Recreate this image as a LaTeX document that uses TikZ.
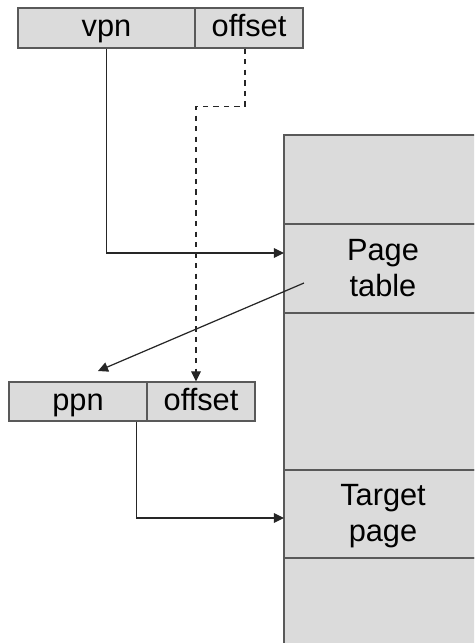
\documentclass[tikz,border=0pt]{standalone}
\usepackage{fontspec}
\setmainfont{Liberation Sans}
\usetikzlibrary{arrows.meta}

\newcommand{\px}{0.2mm}

\begin{document}
\begin{tikzpicture}[%
        x = 0.02cm,
        y = -0.02cm,
        > = {Triangle[length=5.7pt, width=5.5pt]},
        line width = 0.7pt,
        cell/.style = {draw = black!65, fill = black!14, inner sep = 0pt,
            font = \fontsize{17.5}{20.4}\selectfont, align = center,
            text height = 13.6pt, text depth = 3.7pt},
        memcell/.style = {cell, minimum width = 198*\px,
            text height = 33pt, text depth = 1.7pt},
        link/.style = {draw = black!85, ->}
    ]

        \useasboundingbox (0,0) rectangle (474,643);
        \clip (0,0) rectangle (474,643);

        % Virtual address.
        \node[cell, minimum width = 177*\px, minimum height = 40*\px]
            (vpn) at (106.5, 28) {vpn};
        \node[cell, minimum width = 108*\px, minimum height = 40*\px]
            (voff) at (249, 28) {offset};

        % Physical address.
        \node[cell, minimum width = 138*\px, minimum height = 39*\px]
            (ppn) at (78, 401.5) {ppn};
        \node[cell, minimum width = 108*\px, minimum height = 39*\px]
            (poff) at (201, 401.5) {offset};

        % Memory column.
        \node[memcell, minimum height = 89*\px]  (mem1)   at (383, 179.5) {};
        \node[memcell, minimum height = 89*\px]  (ptable) at (383, 268.5) {Page\\table};
        \node[memcell, minimum height = 157*\px] (mem3)   at (383, 391.5) {};
        \node[memcell, minimum height = 88*\px]  (target) at (383, 514)   {Target\\page};
        \node[memcell, minimum height = 100*\px] (mem5)   at (383, 608)   {};

        % Points where the connectors end.
        \coordinate (ptin)  at (284, 253);
        \coordinate (ptout) at (304, 283);
        \coordinate (ppnin) at (98, 371);
        \coordinate (tgin)  at (284, 518);

        % Connectors.
        \draw[link] (vpn.south) |- (ptin);
        \draw[link, dashed]
            ([xshift = -4*\px]voff.south) -- ++(0, 58) -| ([xshift = -5*\px]poff.north);
        \draw[link] (ptout) -- (ppnin);
        \draw[link] ([xshift = -11*\px]ppn.south east) |- (tgin);
    \end{tikzpicture}
\end{document}
